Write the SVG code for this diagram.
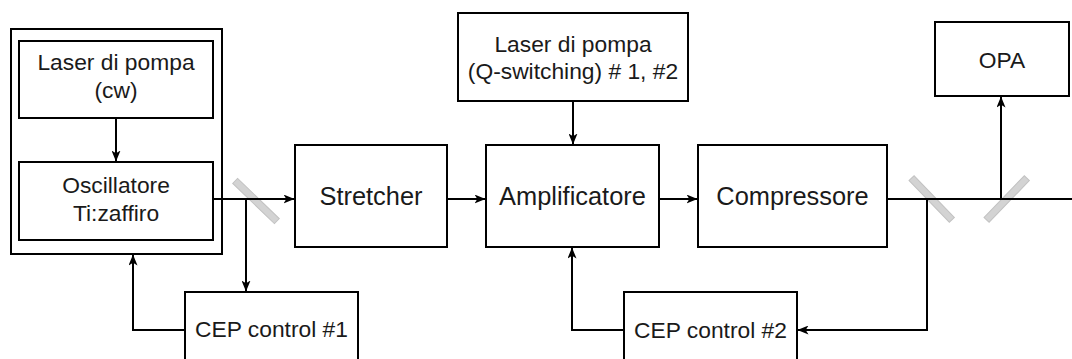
<svg xmlns="http://www.w3.org/2000/svg" width="1072" height="359" viewBox="0 0 1072 359">
  <style>
    .box { fill: #ffffff; stroke: #000000; stroke-width: 2; }
    .lbl { font-family: "Liberation Sans", Arial, sans-serif; font-size: 22.8px; fill: #1a1a1a; text-anchor: middle; }
    .big { font-size: 25.4px; }
    .conn { fill: none; stroke: #000000; stroke-width: 2; marker-end: url(#arr); }
    .mirror { fill: #d3d3d3; stroke: #c2c2c2; stroke-width: 1; }
  </style>
  <defs>
    <marker id="arr" viewBox="0 0 11 9" refX="10.5" refY="4.5" markerWidth="11" markerHeight="9" markerUnits="userSpaceOnUse" orient="auto">
      <path d="M0,0 L11,4.5 L0,9 L2.8,4.5 Z" fill="#000000"/>
    </marker>
  </defs>
  <rect width="1072" height="359" fill="#ffffff"/>

  <g id="oscillator-group">
    <rect class="box" x="11" y="29" width="211" height="225" style="fill:none"/>
  </g>
  <g id="laser-cw">
    <rect class="box" x="19" y="41" width="194" height="77"/>
    <text class="lbl" x="116" y="70">Laser di pompa</text>
    <text class="lbl" x="116" y="98">(cw)</text>
  </g>
  <g id="oscillatore">
    <rect class="box" x="19" y="162" width="194" height="78"/>
    <text class="lbl" x="116" y="193">Oscillatore</text>
    <text class="lbl" x="116" y="221">Ti:zaffiro</text>
  </g>
  <g id="stretcher">
    <rect class="box" x="295" y="145" width="152" height="102"/>
    <text class="lbl big" x="371" y="205">Stretcher</text>
  </g>
  <g id="amplificatore">
    <rect class="box" x="486" y="145" width="173" height="102"/>
    <text class="lbl big" x="572.5" y="205">Amplificatore</text>
  </g>
  <g id="compressore">
    <rect class="box" x="698" y="145" width="189" height="102"/>
    <text class="lbl big" x="792.5" y="205">Compressore</text>
  </g>
  <g id="laser-q">
    <rect class="box" x="458" y="13" width="230" height="88"/>
    <text class="lbl" x="573" y="52">Laser di pompa</text>
    <text class="lbl" x="573" y="79">(Q-switching) # 1, #2</text>
  </g>
  <g id="opa">
    <rect class="box" x="935" y="22" width="134" height="74"/>
    <text class="lbl" x="1002" y="68">OPA</text>
  </g>
  <g id="cep1">
    <rect class="box" x="185" y="292" width="173" height="80"/>
    <text class="lbl" x="271.5" y="337">CEP control #1</text>
  </g>
  <g id="cep2">
    <rect class="box" x="624" y="292" width="173" height="80"/>
    <text class="lbl" x="710.5" y="338">CEP control #2</text>
  </g>

  <g id="mirrors">
    <rect class="mirror" x="227" y="197.5" width="58" height="7" transform="rotate(44 256 201)"/>
    <rect class="mirror" x="902.7" y="195.5" width="58" height="7" transform="rotate(46 931.7 199)"/>
    <rect class="mirror" x="977.7" y="195.5" width="58" height="7" transform="rotate(-46 1006.7 199)"/>
  </g>

  <g id="connectors">
    <path class="conn" d="M116,118 L116,161"/>
    <path class="conn" d="M213,199 L294,199"/>
    <path class="conn" d="M246,199 L246,291"/>
    <path class="conn" d="M185,330 L133,330 L133,255"/>
    <path class="conn" d="M447,199 L485,199"/>
    <path class="conn" d="M573,101 L573,144"/>
    <path class="conn" d="M659,199 L697,199"/>
    <path class="conn" d="M887,199 L1082,199"/>
    <path class="conn" d="M1001,199 L1001,97"/>
    <path class="conn" d="M927,199 L927,330 L798,330"/>
    <path class="conn" d="M624,330 L572,330 L572,248"/>
  </g>
</svg>
